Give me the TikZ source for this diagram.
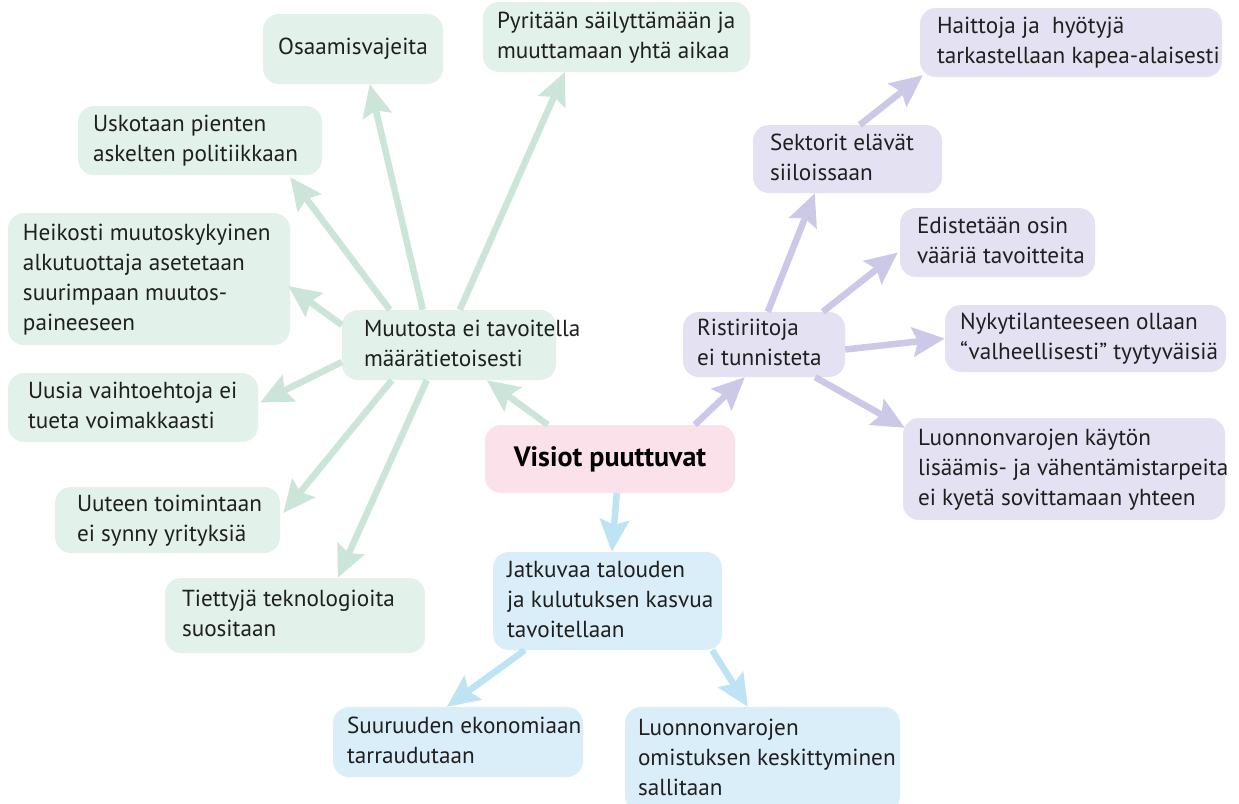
\documentclass[tikz,border=0pt]{standalone}
\usepackage{fontspec}
\setmainfont{PT Sans}
\usetikzlibrary{arrows.meta,calc}
\definecolor{gfill}{HTML}{E2F2EA}
\definecolor{garrow}{HTML}{CBE6D9}
\definecolor{pfill}{HTML}{E4E2F2}
\definecolor{parrow}{HTML}{CCC9E8}
\definecolor{bfill}{HTML}{DAEEFA}
\definecolor{barrow}{HTML}{BEE3F4}
\definecolor{rfill}{HTML}{FBE1E9}
\newcommand\lns[2]{\makebox[#1][l]{\begin{tabular}{@{}l@{}}#2\end{tabular}}}
\begin{document}
\begin{tikzpicture}[x=1pt,y=-1pt,
  box/.style={rounded corners=16pt, inner ysep=0pt, inner xsep=15pt,
    font=\fontsize{23.2}{30}\selectfont, text=black!88},
  gb/.style={box, fill=gfill},
  pb/.style={box, fill=pfill},
  bb/.style={box, fill=bfill},
  arr/.style={line width=6.5pt, -{Stealth[length=32pt,width=29pt,inset=5pt]}},
  garr/.style={arr, draw=garrow},
  parr/.style={arr, draw=parrow},
  barr/.style={arr, draw=barrow}]
\useasboundingbox (0,0) rectangle (1239,803);
\fill[white] (0,0) rectangle (1239,803);

% green group
\node[gb, minimum width=180pt, minimum height=70pt] (osa) at (353,49) {Osaamisvajeita};
\node[gb, inner xsep=14pt, minimum width=267pt, minimum height=70pt] (pyr) at (616.5,37)
  {\lns{239pt}{Pyritään säilyttämään ja\\muuttamaan yhtä aikaa}};
\node[gb, minimum width=244pt, minimum height=69pt] (usk) at (200,140.5)
  {\lns{214pt}{Uskotaan pienten\\askelten politiikkaan}};
\node[gb, minimum width=282pt, minimum height=132pt] (hei) at (149,279)
  {\lns{252pt}{Heikosti muutoskykyinen\\alkutuottaja asetetaan\\suurimpaan muutos-\\paineeseen}};
\node[gb, inner xsep=22pt, minimum width=214pt, minimum height=70pt] (muu) at (449,345)
  {\lns{170pt}{Muutosta ei tavoitella\\määrätietoisesti}};
\node[gb, inner xsep=20pt, minimum width=250pt, minimum height=69pt] (uus) at (133,407.5)
  {\lns{210pt}{Uusia vaihtoehtoja ei\\tueta voimakkaasti}};
\node[gb, inner xsep=22pt, minimum width=225pt, minimum height=66pt] (uut) at (167.5,520)
  {\lns{181pt}{Uuteen toimintaan\\ei synny yrityksiä}};
\node[gb, inner xsep=17pt, minimum width=260pt, minimum height=75pt] (tie) at (295,615.5)
  {\lns{226pt}{Tiettyjä teknologioita\\suositaan}};

% centre
\node[box, fill=rfill, minimum width=250pt, minimum height=68pt,
  font=\fontsize{28}{32}\selectfont\bfseries, text=black] (vis) at (610,459) {Visiot puuttuvat};

% blue group
\node[bb, inner xsep=14pt, minimum width=229pt, minimum height=98pt] (jat) at (607.5,601)
  {\lns{201pt}{Jatkuvaa talouden\\ja kulutuksen kasvua\\tavoitellaan}};
\node[bb, inner xsep=14pt, minimum width=250pt, minimum height=70pt] (suu) at (458,742)
  {\lns{222pt}{Suuruuden ekonomiaan\\tarraudutaan}};
\node[bb, inner xsep=13pt, minimum width=275pt, minimum height=105pt] (luo2) at (762.5,759.5)
  {\lns{249pt}{Luonnonvarojen\\omistuksen keskittyminen\\sallitaan}};

% purple group
\node[pb, inner xsep=14pt, minimum width=162pt, minimum height=65pt] (rist) at (764,344.5)
  {\lns{134pt}{Ristiriitoja\\ei tunnisteta}};
\node[pb, inner xsep=17pt, minimum width=302pt, minimum height=69pt] (hai) at (1071,42.5)
  {\lns{268pt}{Haittoja ja\ \ hyötyjä\\tarkastellaan kapea-alaisesti}};
\node[pb, inner xsep=17pt, minimum width=189pt, minimum height=68pt] (sek) at (847.5,159)
  {\lns{155pt}{Sektorit elävät\\siiloissaan}};
\node[pb, inner xsep=17pt, minimum width=195pt, minimum height=69pt] (edi) at (997.5,242.5)
  {\lns{161pt}{Edistetään osin\\vääriä tavoitteita}};
\node[pb, inner xsep=15pt, minimum width=281pt, minimum height=67pt] (nyk) at (1085.5,338.5)
  {\lns{251pt}{Nykytilanteeseen ollaan\\“valheellisesti” tyytyväisiä}};
\node[pb, inner xsep=15pt, minimum width=322pt, minimum height=102pt] (luo1) at (1064,469)
  {\lns{292pt}{Luonnonvarojen käytön\\lisäämis- ja vähentämistarpeita\\ei kyetä sovittamaan yhteen}};

% green arrows
\draw[garr] ($(muu.north west)+(81,0)$) -- ($(osa.south west)+(107,0)$);
\draw[garr] ($(muu.north west)+(118,0)$) -- ($(pyr.south west)+(82,0)$);
\draw[garr] ($(muu.north west)+(48,0)$) -- ($(usk.south east)+(-32,2)$);
\draw[garr] ($(muu.west)+(0,-20)$) -- ($(hei.east)+(-2,7)$);
\draw[garr] ($(muu.west)+(0,17)$) -- ($(uus.east)+(2,-5)$);
\draw[garr] ($(muu.south west)+(50,0)$) -- ($(uut.east)+(3,-7)$);
\draw[garr] ($(muu.south west)+(85,0)$) -- ($(tie.north west)+(173,0)$);
\draw[garr] ($(vis.north west)+(63,0)$) -- ($(muu.south west)+(145,0)$);

% blue arrows
\draw[barr] ($(vis.south west)+(132,0)$) -- ($(jat.north west)+(119,0)$);
\draw[barr] ($(jat.south west)+(32,0)$) -- ($(suu.north west)+(114,0)$);
\draw[barr] ($(jat.south east)+(-10,0)$) -- ($(luo2.north west)+(123,0)$);

% purple arrows
\draw[parr] ($(vis.north west)+(210,0)$) -- ($(rist.south west)+(62,0)$);
\draw[parr] ($(rist.north west)+(85,0)$) -- ($(sek.south west)+(62,0)$);
\draw[parr] ($(rist.north west)+(140,0)$) -- ($(edi.west)+(-2,10)$);
\draw[parr] ($(rist.east)+(0,5)$) -- ($(nyk.west)+(0,0)$);
\draw[parr] ($(rist.south east)+(-30,0)$) -- ($(luo1.north west)+(2,10)$);
\draw[parr] ($(sek.north west)+(107,0)$) -- ($(hai.south west)+(3,-2)$);
\end{tikzpicture}
\end{document}
